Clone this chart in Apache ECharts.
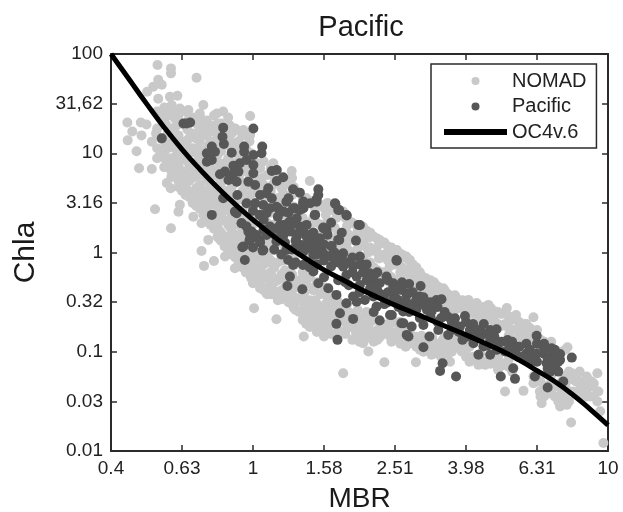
<!DOCTYPE html>
<html><head><meta charset="utf-8">
<style>html,body{margin:0;padding:0;background:#fff}#c{width:623px;height:512px}</style>
<script src="https://cdn.jsdelivr.net/npm/echarts@6/dist/echarts.min.js"></script>
</head><body><div id="c"></div>
<script>
// All values are log10(MBR), log10(Chla)
const xTickLabels = ['0.4','0.63','1','1.58','2.51','3.98','6.31','10'];
const yTickLabels = ['0.01','0.03','0.1','0.32','1','3.16','10','31,62','100'];
const nomadEdge = [[-.269,1.89],[-.231,1.855],[-.231,1.805],[-.159,1.76],[-.267,1.74],[-.281,1.67],[-.257,1.69],[-.298,1.62],[-.267,1.55],[-.234,1.57],[-.213,1.58],[-.14,1.486],[-.229,1.486],[-.248,1.435],[-.206,1.45],[-.182,1.435],[-.084,1.42],[-.008,1.375],[-.102,1.4],[-.15,1.37],[-.354,1.31],[-.316,1.31],[-.3,1.29],[-.34,1.22],[-.314,1.18],[-.353,1.13],[-.273,1.2],[-.285,1.117],[-.328,1.02],[-.321,.848],[-.285,.842],[-.243,.7],[-.232,.647],[-.276,.436],[-.206,.48],[-.21,.41],[-.168,.36],[-.231,.244],[-.145,.295],[-.126,.127],[-.145,.016],[-.046,1.234],[-.027,1.234],[-.008,1.184],[-.055,1.1],[.057,.9],[.109,.82],[.16,.72],[.207,.446],[.254,.412],[-.138,-.135],[-.11,-.085],[-.079,-.04],[.003,-.562],[.066,-.672],[.143,-.847],[.2,-.847],[.325,-.998],[.37,-1.105],[.254,-1.216],[.287,-.864],[.31,-.914],[.348,-.864],[.395,-.847],[.165,-.74],[.212,-.74],[.104,-.478],[.151,-.562],[0,-.31],[.038,-.41],[.071,-.427],[-.051,-.159],[.357,.126],[.404,.026],[.432,-.04],[.301,.19],[.217,.43],[.405,.025],[.442,-.075],[.433,-.21],[.487,-.26],[.536,-.36],[.569,-.43],[.607,-.478],[.63,-.51],[.663,-.528],[.682,-.595],[.715,-.56],[.741,-.629],[.79,-.652],[.762,-.753],[.776,-.847],[.886,-.955],[.898,-1.216],[.907,-1.25],[.97,-1.216],[.954,-1.3],[.973,-1.4],[.978,-1.6],[.987,-1.92],[.896,-1.713],[.813,-1.518],[.865,-1.552],[.884,-1.535],[.71,-1.4],[.762,-1.394],[.635,-1.132],[.654,-1.132],[.459,-1.105],[.503,-1.03],[.56,-.98],[.546,-.92],[.588,-.998],[.705,-1.116],[.555,-1.1],[.39,-.83],[.926,-1.35],[.94,-1.45],[.865,-1.485],[.79,-1.317],[.808,-1.4],[.893,-1.233]];
const nomadColumns = [[-.27,[1.42,1.25,1.05,.95]],[-.25,[1.46,1.32,1.12,.98,.86]],[-.23,[1.44,1.25,1.1,.95,.82,.76]],[-.21,[1.38,1.18,1.02,.88,.72,.66]],[-.19,[1.42,1.28,1.12,.96,.8,.66,.58]],[-.17,[1.36,1.2,1.05,.9,.75,.6,.5]],[-.15,[1.4,1.25,1.12,.98,.84,.68,.55,.44]],[-.13,[1.33,1.18,1.05,.88,.72,.58,.42,.34]],[-.11,[1.38,1.22,1.1,.94,.78,.62,.48,.3,.24]],[-.09,[1.3,1.12,1.02,.85,.7,.52,.38,.2,.12]],[-.07,[1.36,1.16,.95,.8,.6,.44,.28,.1,.02]],[-.05,[1.25,1.1,.9,.7,.52,.32,.18,.04,-.05]],[-.03,[1.18,1.02,.82,.62,.42,.24,.08,-.08,-.15]],[-.01,[1.12,.95,.78,.58,.35,.15,.02,-.14,-.22]],[.01,[.9,.72,.5,.3,.08,-.05,-.2,-.3]],[.03,[.92,.68,.45,.22,.02,-.12,-.26,-.38]],[.05,[.85,.62,.4,.15,-.08,-.2,-.32,-.42]],[.07,[.72,.55,.32,.1,-.1,-.28,-.4,-.48]],[.09,[.68,.5,.25,.05,-.18,-.35,-.45]],[.11,[.75,.58,.36,-.02,-.22,-.42,-.52]],[.13,[.6,.42,.02,-.28,-.46,-.6]],[.15,[.55,.3,-.05,-.32,-.5,-.64,-.72]],[.17,[.52,.35,.2,-.38,-.55,-.68]],[.19,[.48,.28,.12,-.42,-.6,-.72]],[.21,[.5,.32,.15,-.45,-.62,-.7,-.78]],[.23,[.42,.25,.08,-.5,-.65]],[.25,[.38,.2,.05,-.12,-.55,-.68,-.8]],[.27,[.32,.18,.02,-.6,-.72]],[.29,[.28,.12,-.02,-.7,-.8]],[.31,[.26,.1,-.05,-.72,-.85]],[.33,[.2,.05,-.1,-.7,-.82]],[.35,[.14,0,-.18,-.78,-.88]],[.37,[.1,-.02,-.2,-.75]],[.39,[.05,-.06,-.25,-.8,-.9]],[.41,[0,-.1,-.3,-.78]],[.43,[-.05,-.18,-.32,-.85,-.95]],[.45,[-.12,-.22,-.38,-.86]],[.47,[-.2,-.3,-.9,-.98]],[.49,[-.28,-.35,-.42,-.92]],[.51,[-.3,-.4,-.97]],[.53,[-.38,-.45,-.95,-1.05]],[.55,[-.42,-.5,-.88,-1.02]],[.57,[-.46,-.55,-.92]],[.59,[-.48,-.56,-.9,-1]],[.61,[-.5,-.6,-.95,-1.1]],[.63,[-.52,-.62,-1.06]],[.65,[-.55,-.65,-1.1]],[.67,[-.56,-.62,-1.12]],[.69,[-.6,-.72,-1.05,-1.18]],[.71,[-.6,-.72,-1.12]],[.73,[-.65,-.78,-1.2]],[.75,[-.7,-.8,-.86]],[.77,[-.72,-.82,-.9]],[.79,[-.8,-.88,-1.25]],[.81,[-.88,-1.3,-1.45]],[.83,[-.92,-1.38]],[.85,[-.98,-1.35,-1.45]],[.87,[-1,-1.3,-1.4]],[.89,[-1.2,-1.4,-1.5]],[.91,[-1.25,-1.3]],[.93,[-1.3,-1.4]],[.95,[-1.35,-1.45]],[.97,[-1.4,-1.5]]];
const nomadFill = [[-.26,[1.35,1.15,1.0]],[-.24,[1.38,1.2,1.05,.9]],[-.22,[1.35,1.2,1.05,.92,.8]],[-.2,[1.3,1.1,.95,.82,.72,.62]],[-.18,[1.35,1.15,1.0,.85,.72,.56]],[-.16,[1.3,1.15,1.0,.8,.65,.52,.47]],[-.14,[1.3,1.18,1.02,.92,.78,.62,.5,.38]],[-.12,[1.28,1.12,1.0,.85,.68,.54,.36,.28]],[-.1,[1.3,1.15,.98,.82,.66,.55,.4,.26,.16]],[-.08,[1.25,1.08,.9,.75,.62,.46,.32,.16,.06]],[-.06,[1.2,1.05,.86,.66,.5,.36,.22,.06,-.02]],[-.04,[1.12,.98,.76,.58,.4,.28,.12,-.02,-.1]],[-.02,[1.05,.88,.68,.5,.3,.12,0,-.12,-.2]],[0,[.95,.8,.6,.4,.2,.02,-.1,-.22,-.3]],[.02,[.85,.62,.38,.15,-.02,-.16,-.28,-.36]],[.04,[.78,.55,.3,.1,-.05,-.22,-.36,-.42]],[.06,[.75,.5,.28,.05,-.15,-.3,-.42]],[.08,[.65,.42,.18,-.02,-.22,-.38,-.47]],[.1,[.7,.5,.3,0,-.28,-.42,-.5]],[.12,[.62,.4,.1,-.12,-.35,-.5,-.58]],[.14,[.55,.35,.05,-.2,-.42,-.58,-.68]],[.16,[.5,.25,0,-.25,-.48,-.62,-.75]],[.18,[.5,.3,.1,-.3,-.52,-.66,-.8]],[.2,[.45,.22,.05,-.35,-.55,-.68,-.76]],[.22,[.45,.3,.1,-.42,-.58,-.72,-.82]],[.24,[.4,.2,.02,-.5,-.62,-.78]],[.26,[.35,.15,-.02,-.55,-.7,-.82]],[.28,[.3,.15,-.08,-.62,-.75,-.88]],[.3,[.25,.08,-.1,-.66,-.78,-.9]],[.32,[.22,.05,-.12,-.6,-.74,-.84]],[.34,[.16,.02,-.15,-.68,-.8,-.9]],[.36,[.1,-.05,-.2,-.72,-.84]],[.38,[.06,-.08,-.22,-.72,-.82]],[.4,[.02,-.12,-.28,-.7,-.85]],[.42,[-.02,-.15,-.3,-.76,-.9]],[.44,[-.08,-.22,-.35,-.8,-.92]],[.46,[-.15,-.28,-.4,-.85,-.95]],[.48,[-.25,-.34,-.88,-1]],[.5,[-.28,-.38,-.95]],[.52,[-.34,-.44,-.92,-1.02]],[.54,[-.38,-.48,-.85]],[.56,[-.44,-.54,-.9,-1]],[.58,[-.48,-.56,-.95]],[.6,[-.5,-.6,-.92,-1.05]],[.62,[-.54,-.62,-1.05]],[.64,[-.56,-.66,-1.08]],[.66,[-.58,-.68,-1.1]],[.68,[-.6,-.7,-1.1]],[.7,[-.62,-.74,-1.14]],[.72,[-.64,-.76,-1.15]],[.74,[-.68,-.78,-.88]],[.76,[-.72,-.82,-.92]],[.78,[-.76,-.85,-.92]],[.8,[-.85,-.95,-1.3]],[.82,[-.9,-1.35,-1.45]],[.84,[-.95,-1.3,-1.42]],[.86,[-1,-1.35,-1.5]],[.88,[-1.25,-1.42]],[.9,[-1.28,-1.4]],[.92,[-1.3,-1.38]],[.94,[-1.25,-1.38]],[.96,[-1.32,-1.45]]];
const nomadInner = [[-.245,[1.29,1.08,.93]],[-.215,[1.28,1.12,.98,.85,.76]],[-.185,[1.24,1.07,.92,.77,.63]],[-.155,[1.33,1.18,1.05,.92,.77,.62,.5]],[-.125,[1.24,1.08,.94,.78,.63,.48,.39,.31]],[-.095,[1.24,1.07,.9,.75,.6,.46,.33,.22,.14]],[-.065,[1.28,1.1,.92,.76,.56,.41,.26,.14,.04]],[-.035,[1.06,.87,.72,.54,.34,.18,.03,-.06,-.12]],[-.005,[1,.84,.66,.47,.27,.09,-.04,-.17,-.26]],[.025,[.75,.56,.34,.18,.05,-.08,-.22,-.34]],[.055,[.68,.46,.24,.02,-.12,-.25,-.37]],[.085,[.6,.38,.12,-.08,-.26,-.42]],[.115,[.66,.46,.22,-.06,-.3,-.46,-.56]],[.145,[.48,.25,.08,-.25,-.4,-.54,-.66]],[.175,[.44,.18,-.04,-.34,-.48,-.62,-.74]],[.205,[.38,.18,.02,-.4,-.52,-.66,-.8]],[.235,[.35,.14,-.04,-.46,-.58,-.72,-.84]],[.265,[.27,.1,-.06,-.52,-.64,-.76]],[.295,[.22,.04,-.1,-.58,-.72,-.84]],[.325,[.15,0,-.16,-.64,-.76,-.86]],[.355,[.08,-.06,-.24,-.68,-.8,-.86]],[.385,[.01,-.14,-.3,-.72,-.84]],[.415,[-.06,-.2,-.36,-.7,-.84,-.92]],[.445,[-.16,-.28,-.42,-.76,-.9]],[.475,[-.24,-.36,-.84,-.94]],[.505,[-.34,-.46,-.86,-.98]],[.535,[-.42,-.52,-.88,-1]],[.565,[-.5,-.6,-.86,-.96]],[.6,[-.55,-.66,-.98]],[.64,[-.6,-.72,-1.02]],[.68,[-.64,-.76,-1.02]],[.72,[-.7,-.84,-1.08]],[.76,[-.78,-.88,-.96]],[.8,[-.78,-.9,-1.22]],[.84,[-.9,-1.24,-1.35]],[.88,[-.98,-1.33]],[.92,[-1.2,-1.44]]];
const pacificPoints = [[-.257,1.15],[-.196,1.3],[-.177,1.31],[-.187,1.3],[-.084,1.258],[.001,1.25],[-.086,1.167],[-.082,1.093],[-.116,1.067],[-.13,.999],[-.107,1.016],[-.06,1.006],[-.025,1.067],[-.025,1.016],[.026,1.067],[.001,.983],[.024,1],[-.13,.915],[-.116,.932],[-.055,.875],[-.037,.9],[-.018,.932],[.001,.882],[-.093,.788],[-.079,.815],[-.055,.798],[-.069,.731],[-.041,.815],[-.046,.714],[.001,.798],[-.013,.714],[.006,.68],[.053,.822],[.067,.832],[.085,.758],[.067,.721],[.043,.647],[-.084,.546],[-.044,.58],[-.116,.379],[.113,.637],[.132,.603],[.184,.637],[.184,.58],[.179,.536],[.1,.546],[.142,.513],[.02,.58],[.038,.597],[.053,.546],[-.018,.496],[.006,.496],[.029,.479],[.048,.446],[.071,.446],[.086,.412],[.118,.446],[.142,.446],[.161,.496],[-.051,.412],[.02,.379],[.175,.379],[.231,.496],[.24,.429],[.264,.372],[.297,.278],[.198,.251],[.207,.228],[.24,.127],[.221,.06],[-.027,.06],[.029,.026],[-.032,.295],[-.018,.261],[-.004,.211],[-.008,.144],[.01,.177],[.048,.261],[.067,.244],[.086,.278],[.104,.311],[.123,.345],[.132,.261],[.151,.278],[.104,.211],[.123,.16],[.151,.16],[.17,.11],[.189,.043],[.086,.177],[.067,.144],[.132,.077],[.142,.01],[.17,.01],[-.03,.052],[.027,.019],[-.023,-.075],[-.046,.395],[-.032,.294],[-.013,.21],[-.004,.143],[.019,.126],[.038,.177],[.066,.11],[.094,.026],[.099,-.075],[.113,-.125],[.141,-.125],[.17,-.192],[.184,-.31],[.104,-.243],[.097,-.337],[.139,-.37],[.212,-.36],[.235,-.427],[.263,-.511],[.282,-.444],[.245,-.612],[.235,-.719],[.238,-.88],[.282,-.669],[.357,-.686],[.404,-.075],[.301,.277],[.263,.378],[.243,.428],[.232,.489],[.174,.378],[.198,.244],[.243,.126],[.221,.066],[.048,.244],[.076,.277],[.104,.227],[.118,.294],[.141,.227],[.123,.16],[.16,.177],[.188,.143],[.151,.093],[.179,.059],[.123,.076],[.198,-.008],[.17,-.025],[.254,-.008],[.226,-.058],[.301,-.041],[.282,-.142],[.254,-.142],[.31,-.125],[.329,-.209],[.292,-.243],[.263,-.226],[.376,-.243],[.357,-.31],[.395,-.31],[.414,-.36],[.433,-.41],[.339,-.293],[.301,-.327],[.315,-.478],[.339,-.444],[.367,-.444],[.395,-.478],[.348,-.545],[.386,-.629],[.418,-.713],[.433,-.83],[.423,-.595],[.292,-.495],[.066,.462],[.113,.445],[.141,.495],[.179,.512],[.094,.512],[.038,.395],[.019,.378],[.076,.412],[.132,.428],[.405,-.082],[.44,-.317],[.472,-.337],[.395,-.344],[.419,-.377],[.4,-.444],[.433,-.428],[.47,-.444],[.48,-.528],[.456,-.512],[.503,-.595],[.391,-.629],[.424,-.713],[.447,-.746],[.438,-.847],[.497,-.847],[.48,-.73],[.517,-.478],[.531,-.471],[.522,-.78],[.55,-.83],[.569,-.663],[.597,-.639],[.583,-.746],[.611,-.78],[.64,-.78],[.668,-.78],[.686,-.773],[.621,-.914],[.649,-.948],[.635,-1.03],[.668,-1.03],[.686,-.981],[.668,-.881],[.48,-.955],[.534,-1.116],[.527,-1.193],[.572,-1.25],[.698,-1.25],[.738,-1.273],[.733,-1.166],[.717,-.881],[.743,-.955],[.71,-.998],[.771,-1.015],[.799,-.84],[.818,-.948],[.841,-.965],[.865,-1.022],[.898,-1.059],[.79,-1.065],[.827,-1.116],[.851,-1.132],[.865,-1.082],[.837,-1.2],[.794,-1.25],[.83,-1.36],[.874,-1.3],[.762,-1.048]];
const pacificFill = [[.05,.2],[.08,.2],[.12,.12],[.16,.1],[.2,.08],[.23,0],[.18,-.02],[.14,.02],[.24,-.1],[.2,-.08],[.28,-.05],[.32,-.12],[.35,-.2],[.28,-.2],[.32,-.28],[.38,-.28],[.42,-.3],[.45,-.4],[.48,-.45],[.5,-.5],[.52,-.55],[.46,-.58],[.5,-.65],[.54,-.6],[.56,-.7],[.6,-.7],[.62,-.72],[.65,-.72],[.6,-.85],[.64,-.85],[.58,-.8],[.68,-.85],[.72,-.92],[.75,-.95],[.7,-.9],[.78,-.98],[.8,-.92],[.82,-1.02],[.84,-1.05],[.86,-1.1],[.8,-1.1],[.83,-1.17],[.86,-1.2],[.78,-1.1],[.76,-1.05],[.35,-.38],[.38,-.4],[.41,-.48],[.37,-.52],[.41,-.55],[.44,-.6],[.47,-.66],[.52,-.7],[.56,-.78],[.34,-.6],[.3,-.4],[.27,-.33],[.24,-.28],[.2,-.25],[.16,-.15],[.12,-.1],[.08,-.02],[.06,.03],[.02,.1],[0,.05],[-.01,.12],[.1,.3],[.13,.2],[.17,.2],[.21,.18],[.07,.36],[.03,.33],[0,.42],[.1,.4],[.22,.3],[.25,.2],[.29,.12],[.03,.23],[.09,.1],[.11,.03],[.15,.04],[.19,.1],[.22,-.03],[.25,-.05],[.27,-.1],[.22,-.14],[.18,-.12],[.3,-.12],[.26,-.3],[.31,-.2],[.34,-.24],[.36,-.42],[.33,-.36],[.4,-.37],[.43,-.5],[.46,-.48],[.49,-.58],[.53,-.66],[.57,-.73],[.55,-.65],[.63,-.78],[.59,-.88],[.66,-.82],[.69,-.93],[.72,-1],[.74,-1.02],[.77,-.92],[.8,-1.02],[.83,-1.07],[.85,-1.16],[.82,-.92],[.85,-.98],[.73,-.9],[.62,-.86],[.66,-.94],[.5,-.58],[.44,-.52],[.38,-.5]];
const curvePoints = [[-.4,2],[-.35,1.75],[-.3,1.5],[-.25,1.26],[-.2,1.04],[-.15,.84],[-.1,.655],[-.05,.485],[0,.33],[.05,.185],[.1,.055],[.15,-.065],[.2,-.175],[.25,-.27],[.3,-.365],[.35,-.45],[.4,-.53],[.45,-.605],[.5,-.68],[.55,-.755],[.6,-.83],[.65,-.91],[.7,-.99],[.75,-1.085],[.8,-1.19],[.85,-1.3],[.9,-1.43],[.95,-1.58],[1,-1.74]];

const nomadPoints = nomadEdge.concat(nomadColumns.concat(nomadFill, nomadInner).flatMap(c => c[1].map(v => [c[0], v])));
const ink = '#2b2b2b', fontFam = '"Liberation Sans", Arial, sans-serif';
const chart = echarts.init(document.getElementById('c'), null, {renderer:'canvas'});
const axisLine = {show:true, onZero:false, lineStyle:{color:ink, width:2}};
const tick = {show:true, inside:true, length:6, lineStyle:{color:ink, width:1.5}};
const base = {type:'value', axisLine, axisTick:tick, splitLine:{show:false}};
const xBase = {...base, min:-.4, max:1, interval:.2};
const yBase = {...base, min:-2, max:2, interval:.5};
chart.setOption({
  animation:false,
  backgroundColor:'#fff',
  title:{text:'Pacific', left:356, top:8, textAlign:'center', textStyle:{fontFamily:fontFam, fontSize:29, fontWeight:'normal', color:'#1a1a1a'}},
  grid:{left:111, top:54, width:497, height:397, containLabel:false, outerBoundsMode:'none'},
  legend:{
    orient:'vertical', left:431, top:64, padding:[7,10,6,13], itemWidth:63, itemHeight:8, itemGap:5.5,
    borderColor:ink, borderWidth:1.5, backgroundColor:'#fff',
    textStyle:{fontFamily:fontFam, fontSize:20, color:'#222'},
    data:[{name:'NOMAD', icon:'circle'},{name:'Pacific', icon:'circle'},{name:'OC4v.6', icon:'path://M0 0H63V6H0Z'}]
  },
  xAxis:[
    {...xBase, position:'bottom', name:'MBR', nameLocation:'middle', nameGap:34,
     nameTextStyle:{fontFamily:fontFam, fontSize:28, color:'#1a1a1a'},
     axisLabel:{margin:8, fontFamily:fontFam, fontSize:19, color:'#222', formatter:(v,i)=>xTickLabels[i]}},
    {...xBase, position:'top', axisLabel:{show:false}}
  ],
  yAxis:[
    {...yBase, position:'left', name:'Chla', nameLocation:'middle', nameGap:70, nameRotate:90,
     nameTextStyle:{fontFamily:fontFam, fontSize:30, color:'#1a1a1a'},
     axisLabel:{margin:8, fontFamily:fontFam, fontSize:19, color:'#222', formatter:(v,i)=>yTickLabels[i]}},
    {...yBase, position:'right', axisLabel:{show:false}}
  ],
  series:[
    {name:'NOMAD', type:'scatter', data:nomadPoints, symbolSize:10, itemStyle:{color:'#c9c9c9', opacity:1}, z:2},
    {name:'Pacific', type:'scatter', data:pacificPoints.concat(pacificFill), symbolSize:10, itemStyle:{color:'#575757', opacity:1}, z:3},
    {name:'OC4v.6', type:'line', data:curvePoints, smooth:true, symbol:'none', lineStyle:{color:'#000', width:5}, itemStyle:{color:'#000'}, z:4}
  ]
});
</script></body></html>
